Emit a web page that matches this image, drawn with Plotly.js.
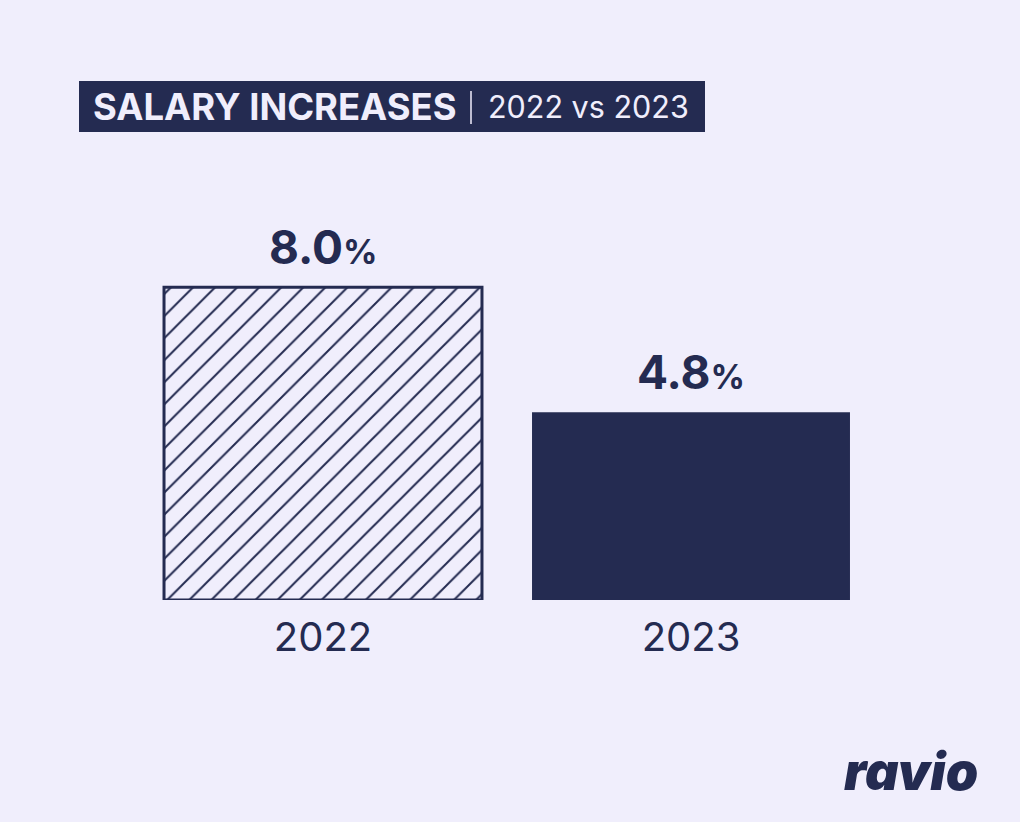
<!DOCTYPE html>
<html>
<head>
<meta charset="utf-8">
<script src="https://cdn.plot.ly/plotly-3.0.1.min.js"></script>
<style>
  html, body { margin: 0; padding: 0; background: #F0EEFC; }
  #chart { width: 1020px; height: 822px; }
</style>
</head>
<body>
<div id="chart"></div>
<script>
// ---- data ----
const years = ["2022", "2023"];
const increases = [8.0, 4.8];
const valueLabels = ["8.0", "4.8"];
const chartTitle = "SALARY INCREASES";
const chartSubtitle = "2022 vs 2023";
const brand = "ravio";

// ---- styles ----
const BG = "#F0EEFC";
const NAVY = "#242B51";
const FONT = "Inter, 'Open Sans', sans-serif";

const L = 139, R = 145, T = 209, B = 222, W = 1020, H = 822;
const PW = W - L - R, PH = H - T - B;
const px = x => (x - L) / PW;
const py = y => (H - B - y) / PH;

// 2022: hatched outline bar; 2023: solid bar
const traceHatched = {
  type: "bar",
  x: [years[0]],
  y: [increases[0]],
  width: 0.864,
  marker: {
    color: BG,
    line: { color: NAVY, width: 3 },
    pattern: { shape: "/", fgcolor: NAVY, size: 15.6, solidity: 0.13, fillmode: "replace" }
  },
  hoverinfo: "skip"
};
const traceSolid = {
  type: "bar",
  x: [years[1]],
  y: [increases[1]],
  width: 0.864,
  marker: { color: NAVY, line: { width: 0 } },
  hoverinfo: "skip"
};

const valueAnns = years.map((yr, i) => ({
  x: i, y: increases[i], xref: "x", yref: "y",
  text: "<b>" + valueLabels[i] + "<span style='font-size:34px'>%</span></b>",
  showarrow: false, yanchor: "bottom", yshift: 10,
  font: { family: FONT, size: 46, color: NAVY }
}));

const layout = {
  width: W, height: H,
  paper_bgcolor: BG, plot_bgcolor: BG,
  margin: { l: L, r: R, t: T, b: B },
  showlegend: false,
  barmode: "overlay",
  xaxis: {
    type: "category",
    categoryorder: "array", categoryarray: years,
    range: [-0.5, 1.5],
    showgrid: false, zeroline: false, showline: false,
    ticks: "outside", ticklen: 2, tickcolor: "rgba(0,0,0,0)",
    tickfont: { family: FONT, size: 40, color: NAVY },
    fixedrange: true
  },
  yaxis: {
    range: [0, 10],
    visible: false,
    fixedrange: true
  },
  shapes: [
    { type: "rect", xref: "paper", yref: "paper",
      x0: px(79), x1: px(705), y0: py(132), y1: py(81),
      fillcolor: NAVY, line: { width: 0 }, layer: "below" },
    { type: "line", xref: "paper", yref: "paper",
      x0: px(471), x1: px(471), y0: py(124), y1: py(91),
      line: { color: BG, width: 1.5 } }
  ],
  annotations: valueAnns.concat([
    { xref: "paper", yref: "paper", x: px(91), y: py(107),
      xanchor: "left", yanchor: "middle", showarrow: false,
      text: "<b>" + chartTitle + "</b>",
      font: { family: FONT, size: 36.4, color: BG } },
    { xref: "paper", yref: "paper", x: px(486), y: py(107),
      xanchor: "left", yanchor: "middle", showarrow: false,
      text: chartSubtitle,
      font: { family: FONT, size: 30.5, color: BG } },
    { xref: "paper", yref: "paper", x: px(980), y: py(771),
      xanchor: "right", yanchor: "middle", showarrow: false,
      text: brand,
      font: { family: FONT, size: 52, color: NAVY, weight: 900, style: "italic" } }
  ])
};

Plotly.newPlot("chart", [traceHatched, traceSolid], layout, { displayModeBar: false, staticPlot: true });
</script>
</body>
</html>
